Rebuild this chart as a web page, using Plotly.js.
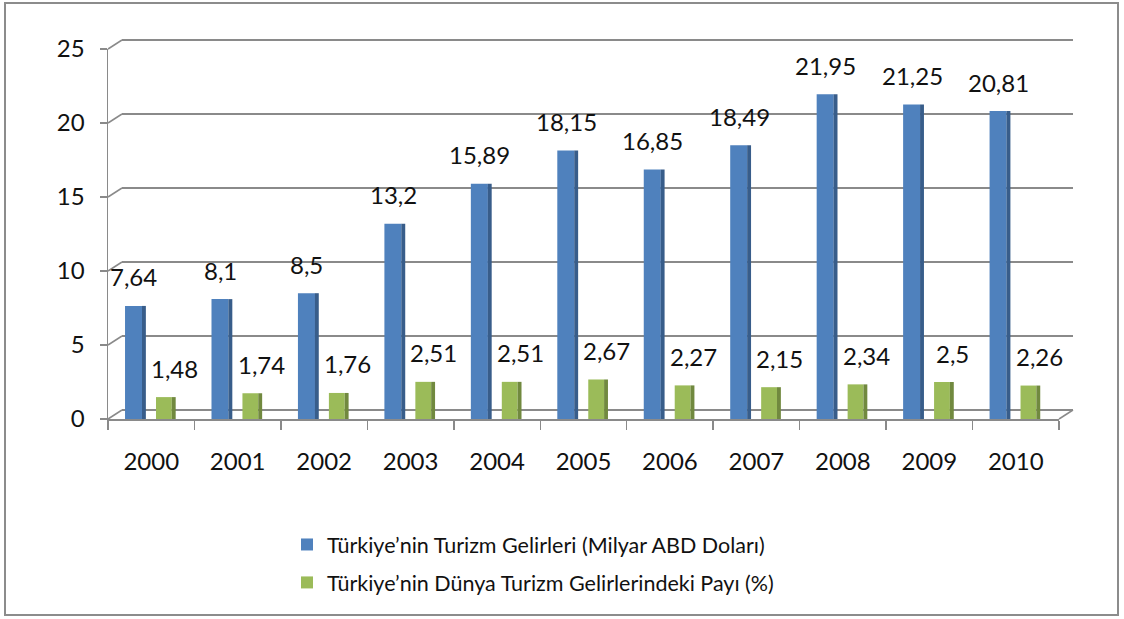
<!DOCTYPE html>
<html><head><meta charset="utf-8">
<script src="https://cdn.plot.ly/plotly-3.0.1.min.js"></script>
<style>html,body{margin:0;padding:0;background:#fff}#chart{width:1124px;height:619px}</style>
</head><body><div id="chart"></div>
<script>
const years = ['2000','2001','2002','2003','2004','2005','2006','2007','2008','2009','2010'];
const gelir = [7.64, 8.1, 8.5, 13.2, 15.89, 18.15, 16.85, 18.49, 21.95, 21.25, 20.81];
const pay = [1.48, 1.74, 1.76, 2.51, 2.51, 2.67, 2.27, 2.15, 2.34, 2.5, 2.26];
const seriesNames = ['Türkiye’nin Turizm Gelirleri (Milyar ABD Doları)', 'Türkiye’nin Dünya Turizm Gelirlerindeki Payı (%)'];
const yTicks = [0, 5, 10, 15, 20, 25];

const W = 1124, H = 619;
const px = v => v / W, py = v => 1 - v / H;
const FONT = 'Lato, "Open Sans", sans-serif';
const GRID = '#8a8a8a';
const TXT = '#111';
// front (bars) and back (grid wall) geometry in pixels
const front = {x0: 108, x1: 1059, yb: 419, yt: 49};
const back = {x0: 122, x1: 1073, yb: 410, yt: 40};
const fmt = v => String(v).replace('.', ',');
const yMax = yTicks[yTicks.length - 1];
const backTop = yMax * 1.004; // tiny headroom so the top gridline is kept
const backTopPx = back.yb - (back.yb - back.yt) * backTop / yMax;

const traces = [
  {type: 'scatter', mode: 'none', x: [0], y: [0], xaxis: 'x', yaxis: 'y', showlegend: false, hoverinfo: 'skip'},
  {type: 'bar', x: years, y: gelir, xaxis: 'x2', yaxis: 'y2', name: seriesNames[0], legendgroup: 'a',
   offset: -0.303, width: 0.197, marker: {color: '#4f81bd'}, hoverinfo: 'y'},
  {type: 'bar', x: years, y: gelir, xaxis: 'x2', yaxis: 'y2', showlegend: false, legendgroup: 'a',
   offset: -0.107, width: 0.045, marker: {color: '#385d8a'}, hoverinfo: 'skip'},
  {type: 'bar', x: years, y: pay, xaxis: 'x2', yaxis: 'y2', name: seriesNames[1], legendgroup: 'b',
   offset: 0.055, width: 0.183, marker: {color: '#9bbb59'}, hoverinfo: 'y'},
  {type: 'bar', x: years, y: pay, xaxis: 'x2', yaxis: 'y2', showlegend: false, legendgroup: 'b',
   offset: 0.238, width: 0.045, marker: {color: '#71893f'}, hoverinfo: 'skip'}
];

const annotations = [];
gelir.forEach((v, i) => annotations.push({x: i - 0.2, y: v, xref: 'x2', yref: 'y2', text: fmt(v),
  showarrow: false, yshift: 29, yanchor: 'middle', font: {family: FONT, size: 24, color: TXT}}));
pay.forEach((v, i) => annotations.push({x: i + 0.27, y: v, xref: 'x2', yref: 'y2', text: fmt(v),
  showarrow: false, yshift: 29, yanchor: 'middle', font: {family: FONT, size: 24, color: TXT}}));

const shapes = [
  {type: 'rect', xref: 'paper', yref: 'paper', x0: px(5), x1: px(1118), y0: py(615), y1: py(3),
   line: {color: '#8c8c8c', width: 2}, layer: 'below'}
];
yTicks.forEach(v => {
  const fy = front.yb + (front.yt - front.yb) * v / yMax;
  const by = back.yb + (back.yt - back.yb) * v / yMax;
  shapes.push({type: 'line', xref: 'paper', yref: 'paper', x0: px(front.x0), y0: py(fy), x1: px(back.x0), y1: py(by),
    line: {color: GRID, width: 1.5}});
});
shapes.push({type: 'line', xref: 'paper', yref: 'paper', x0: px(front.x1), y0: py(front.yb), x1: px(back.x1), y1: py(back.yb),
  line: {color: GRID, width: 1.5}});

const layout = {
  width: W, height: H,
  margin: {l: 0, r: 0, t: 0, b: 0},
  paper_bgcolor: '#fff', plot_bgcolor: 'rgba(0,0,0,0)',
  barmode: 'overlay',
  font: {family: FONT, size: 24, color: TXT},
  xaxis: {domain: [px(back.x0), px(back.x1)], anchor: 'y', showticklabels: false, showgrid: false,
    zeroline: false, showline: false, ticks: '', range: [0, 1], fixedrange: true},
  yaxis: {domain: [py(back.yb), py(backTopPx)], anchor: 'x', range: [0, backTop], tickvals: yTicks,
    showticklabels: false, showgrid: true, gridcolor: GRID, gridwidth: 1.5, zeroline: true,
    zerolinecolor: GRID, zerolinewidth: 1.5, showline: false, ticks: '', fixedrange: true},
  xaxis2: {domain: [px(front.x0), px(front.x1)], anchor: 'y2', type: 'category', range: [-0.5, years.length - 0.5],
    showline: true, linecolor: GRID, linewidth: 1.5, ticks: 'outside', tickson: 'boundaries', ticklen: 9,
    tickcolor: GRID, tickwidth: 1.5, showgrid: false, zeroline: false, ticklabelstandoff: 21,
    tickfont: {family: FONT, size: 24, color: TXT}, fixedrange: true},
  yaxis2: {domain: [py(front.yb), py(front.yt)], anchor: 'x2', range: [0, yMax], tickvals: yTicks,
    ticktext: yTicks.map(String),
    showline: true, linecolor: GRID, linewidth: 1.5, ticks: 'outside', ticklen: 7, tickcolor: GRID, tickwidth: 1.5,
    showgrid: false, zeroline: false, ticklabelstandoff: 10,
    tickfont: {family: FONT, size: 24, color: TXT}, fixedrange: true},
  showlegend: true,
  legend: {orientation: 'v', x: px(287), xanchor: 'left', y: py(524), yanchor: 'top',
    font: {family: FONT, size: 21.5, color: TXT}, bgcolor: 'rgba(0,0,0,0)',
    traceorder: 'grouped', tracegroupgap: 7},
  annotations: annotations,
  shapes: shapes
};

Plotly.newPlot('chart', traces, layout, {displayModeBar: false, staticPlot: true});
</script></body></html>
